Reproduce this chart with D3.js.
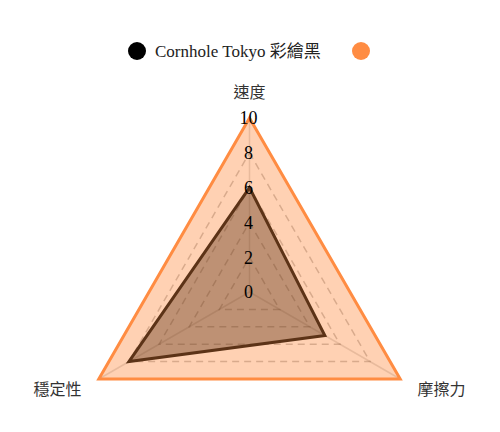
<!DOCTYPE html>
<html>
<head>
<meta charset="utf-8">
<script src="https://cdn.jsdelivr.net/npm/d3@7"></script>
<style>
  body { margin: 0; background: #fff; }
  svg { display: block; }
  .serif { font-family: "Liberation Serif", "Noto Sans CJK TC", serif; }
  .cjk { font-family: "Noto Sans CJK TC", sans-serif; }
</style>
</head>
<body>
<svg id="chart" width="500" height="432"></svg>
<script>
// axes, clockwise from top
const axes = ["速度", "摩擦力", "穩定性"];
const seriesNames = ["Cornhole Tokyo 彩繪黑", ""];
const blackValues = [6, 5, 8];
const maxValues = [10, 10, 10];
const tickValues = [0, 2, 4, 6, 8, 10];

const cx = 249.5, cy = 292, R = 174;

const svg = d3.select("#chart");

const r = d3.scaleLinear().domain([0, 10]).range([0, R]);
const angle = d3.scalePoint().domain(axes).range([0, 2 * Math.PI * (axes.length - 1) / axes.length]);

// point for axis a at value v
const pt = (a, v) => [cx + r(v) * Math.sin(angle(a)), cy - r(v) * Math.cos(angle(a))];

const g = svg.append("g");

// dashed rings
g.selectAll("polygon.ring")
  .data(tickValues.filter(d => d > 0))
  .join("polygon")
  .attr("class", "ring")
  .attr("points", v => axes.map(a => pt(a, v).join(",")).join(" "))
  .attr("fill", "none")
  .attr("stroke", "rgba(0,0,0,0.25)")
  .attr("stroke-width", 1.5)
  .attr("stroke-dasharray", "7,5");

// spokes
g.selectAll("line.spoke")
  .data(axes)
  .join("line")
  .attr("class", "spoke")
  .attr("x1", cx).attr("y1", cy)
  .attr("x2", a => pt(a, 10)[0])
  .attr("y2", a => pt(a, 10)[1])
  .attr("stroke", "rgba(0,0,0,0.15)")
  .attr("stroke-width", 1.5);

const line = d3.lineRadial()
  .angle((d, i) => angle(axes[i]))
  .radius(d => r(d))
  .curve(d3.curveLinearClosed);

const series = [
  { values: maxValues, fill: "rgba(255,140,66,0.4)", stroke: "#ff8c42" },
  { values: blackValues, fill: "rgba(92,51,23,0.4)", stroke: "#5c3317" }
];

g.selectAll("path.area")
  .data(series)
  .join("path")
  .attr("class", "area")
  .attr("transform", `translate(${cx},${cy})`)
  .attr("d", d => line(d.values))
  .attr("fill", d => d.fill)
  .attr("stroke", d => d.stroke)
  .attr("stroke-width", 3)
  .attr("stroke-linejoin", "miter");

// tick labels
g.selectAll("text.tick")
  .data(tickValues)
  .join("text")
  .attr("class", "tick serif")
  .attr("x", cx - 1)
  .attr("y", v => cy - r(v))
  .attr("dy", "0.35em")
  .attr("text-anchor", "middle")
  .attr("font-size", 18)
  .attr("fill", "#000")
  .text(d => d);

// axis labels
g.selectAll("text.axis")
  .data(axes)
  .join("text")
  .attr("class", "axis cjk")
  .attr("x", a => cx + (R + 20) * Math.sin(angle(a)))
  .attr("y", a => {
    const c = Math.cos(angle(a));
    return c > 0.5 ? cy - R - 26 : cy - (R + 20) * c;
  })
  .attr("dy", "0.35em")
  .attr("text-anchor", a => {
    const s = Math.sin(angle(a));
    return s > 0.1 ? "start" : s < -0.1 ? "end" : "middle";
  })
  .attr("font-size", 16)
  .attr("fill", "#333")
  .text(d => d);

// legend
const legend = svg.append("g");
const legendX = [137, 361];
const legendColors = ["#000", "#ff8c42"];
seriesNames.forEach((name, i) => {
  legend.append("circle")
    .attr("cx", legendX[i]).attr("cy", 51).attr("r", 9)
    .attr("fill", legendColors[i]);
  legend.append("text")
    .attr("class", "serif")
    .attr("x", legendX[i] + 18).attr("y", 57)
    .attr("font-size", 17)
    .attr("fill", "#222")
    .text(name);
});
</script>
</body>
</html>
